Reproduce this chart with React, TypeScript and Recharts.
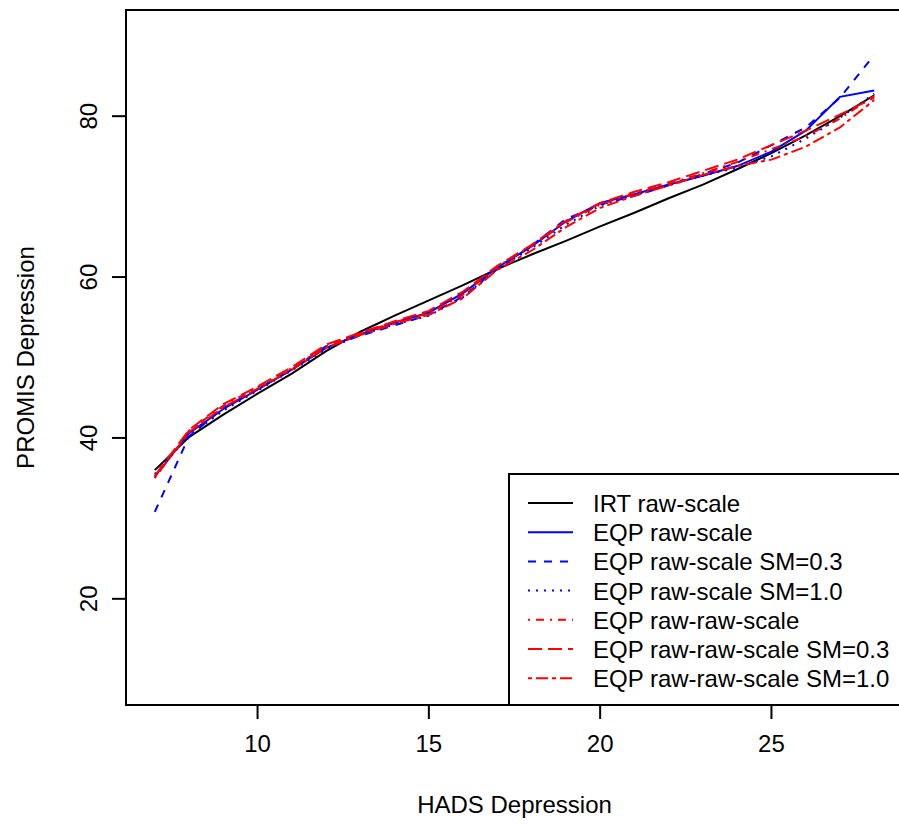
import React from 'react';
import { LineChart, Line, XAxis, YAxis, ReferenceArea } from 'recharts';

// HADS depression raw scores (x) and linked PROMIS depression T-scores (y)
const hadsScores = [7, 8, 9, 10, 11, 12, 13, 14, 15, 16, 17, 18, 19, 20, 21, 22, 23, 24, 25, 26, 27, 28];
const irtRaw = [36.0, 40.1, 42.9, 45.5, 48.0, 50.8, 53.2, 55.2, 57.1, 59.0, 61.0, 62.8, 64.5, 66.3, 68.0, 69.8, 71.5, 73.4, 75.4, 77.6, 80.0, 82.6];
const eqpRaw = [35.2, 40.6, 43.6, 46.0, 48.5, 51.2, 52.9, 54.3, 55.6, 58.0, 61.2, 63.8, 66.9, 69.2, 70.3, 71.5, 72.6, 73.8, 75.6, 78.2, 82.4, 83.2];
const eqpRawSm03 = [30.8, 40.2, 43.7, 46.1, 48.5, 51.4, 52.7, 54.0, 55.3, 57.6, 61.0, 63.9, 67.2, 69.0, 70.1, 71.4, 72.8, 74.2, 76.4, 78.6, 82.3, 87.6];
const eqpRawSm10 = [35.5, 40.3, 43.4, 45.9, 48.4, 51.0, 52.8, 54.1, 55.2, 57.5, 61.0, 63.6, 66.5, 68.9, 70.2, 71.4, 72.6, 73.6, 75.0, 77.2, 79.8, 82.8];
const eqpRawRaw = [35.0, 40.9, 44.0, 46.3, 48.7, 51.4, 53.0, 54.4, 55.5, 57.8, 61.3, 63.9, 66.8, 69.0, 70.4, 71.6, 72.9, 74.3, 75.9, 77.5, 79.7, 82.5];
const eqpRawRawSm03 = [35.3, 41.0, 44.2, 46.4, 48.8, 51.6, 53.1, 54.5, 55.8, 58.2, 61.4, 64.0, 67.0, 69.2, 70.6, 71.8, 73.2, 74.6, 76.4, 78.2, 80.2, 82.3];
const eqpRawRawSm10 = [35.1, 40.7, 43.8, 46.1, 48.5, 51.2, 52.8, 54.2, 55.3, 57.4, 60.9, 63.3, 66.2, 68.6, 70.1, 71.4, 72.7, 73.8, 74.6, 76.2, 78.6, 82.0];

const xTicks = [10, 15, 20, 25];
const yTicks = [20, 40, 60, 80];

const data = hadsScores.map((x, i) => ({
  x,
  irt: irtRaw[i],
  eqp: eqpRaw[i],
  eqp03: eqpRawSm03[i],
  eqp10: eqpRawSm10[i],
  eqpRR: eqpRawRaw[i],
  eqpRR03: eqpRawRawSm03[i],
  eqpRR10: eqpRawRawSm10[i],
}));

const series = [
  { key: 'irt', name: 'IRT raw-scale', color: '#000000', dash: undefined },
  { key: 'eqp', name: 'EQP raw-scale', color: '#0000ff', dash: undefined },
  { key: 'eqp03', name: 'EQP raw-scale SM=0.3', color: '#0000ff', dash: '8 8' },
  { key: 'eqp10', name: 'EQP raw-scale SM=1.0', color: '#0000ff', dash: '2 6' },
  { key: 'eqpRR', name: 'EQP raw-raw-scale', color: '#ff0000', dash: '2 6 8 6' },
  { key: 'eqpRR03', name: 'EQP raw-raw-scale SM=0.3', color: '#ff0000', dash: '14 6' },
  { key: 'eqpRR10', name: 'EQP raw-raw-scale SM=1.0', color: '#ff0000', dash: '4 4 12 4' },
];

const FONT = '"Liberation Sans", Arial, sans-serif';
const X_DOMAIN = [6.16, 28.84];
const Y_DOMAIN = [6.8, 93.2];

const XTick = (props: any) => {
  const { x, y, payload } = props;
  return (
    <text x={x} y={y} dy="0.71em" textAnchor="middle" fontSize={24} fontFamily={FONT} fill="#000">
      {payload.value}
    </text>
  );
};

const YTick = (props: any) => {
  const { x, y, payload } = props;
  return (
    <text x={x} y={y} transform={`rotate(-90, ${x}, ${y})`} textAnchor="middle" fontSize={24} fontFamily={FONT} fill="#000">
      {payload.value}
    </text>
  );
};

export default function App() {
  return (
    <div style={{ position: 'absolute', left: 0, top: 0, width: 899, height: 825, overflow: 'hidden', background: '#fff' }}>
      <LineChart width={910} height={825} data={data} margin={{ top: 10, right: 7, bottom: 0, left: 0 }}>
        <XAxis
          dataKey="x"
          type="number"
          domain={X_DOMAIN}
          ticks={xTicks}
          allowDataOverflow
          height={120}
          axisLine={false}
          tickLine={{ stroke: '#000', strokeWidth: 2 }}
          tickSize={14}
          tickMargin={16}
          tick={<XTick />}
          label={{
            content: (p: any) => {
              const vb = p.viewBox || { x: 126, y: 705, width: 777 };
              return (
                <text x={vb.x + vb.width / 2} y={vb.y + 108} textAnchor="middle" fontSize={24} fontFamily={FONT} fill="#000">
                  HADS Depression
                </text>
              );
            },
          }}
        />
        <YAxis
          type="number"
          domain={Y_DOMAIN}
          ticks={yTicks}
          allowDataOverflow
          width={126}
          axisLine={false}
          tickLine={{ stroke: '#000', strokeWidth: 2 }}
          tickSize={14}
          tickMargin={15}
          tick={<YTick />}
          label={{
            content: (p: any) => {
              const vb = p.viewBox || { x: 0, y: 10, height: 695 };
              const cy = vb.y + vb.height / 2;
              return (
                <text x={34} y={cy} transform={`rotate(-90, 34, ${cy})`} textAnchor="middle" fontSize={24} fontFamily={FONT} fill="#000">
                  PROMIS Depression
                </text>
              );
            },
          }}
        />
        <ReferenceArea
          x1={X_DOMAIN[0]}
          x2={X_DOMAIN[1]}
          y1={Y_DOMAIN[0]}
          y2={Y_DOMAIN[1]}
          fill="none"
          fillOpacity={0}
          stroke="#000"
          strokeWidth={2}
          ifOverflow="visible"
        />
        {series.map((s) => (
          <Line
            key={s.key}
            dataKey={s.key}
            name={s.name}
            type="linear"
            stroke={s.color}
            strokeWidth={2}
            strokeDasharray={s.dash}
            dot={false}
            isAnimationActive={false}
          />
        ))}
      </LineChart>

      {/* legend box, bottom-right, drawn over the plot */}
      <svg width={899} height={825} style={{ position: 'absolute', left: 0, top: 0, pointerEvents: 'none' }}>
        <rect x={509} y={474} width={420} height={231} fill="#fff" stroke="#000" strokeWidth={2} />
        {series.map((s, i) => {
          const cy = 503 + i * 29.2;
          return (
            <g key={s.key}>
              <line x1={528} x2={573} y1={cy} y2={cy} stroke={s.color} strokeWidth={2} strokeDasharray={s.dash} />
              <text x={593} y={cy + 9} fontSize={24} fontFamily={FONT} fill="#000">
                {s.name}
              </text>
            </g>
          );
        })}
      </svg>
    </div>
  );
}
